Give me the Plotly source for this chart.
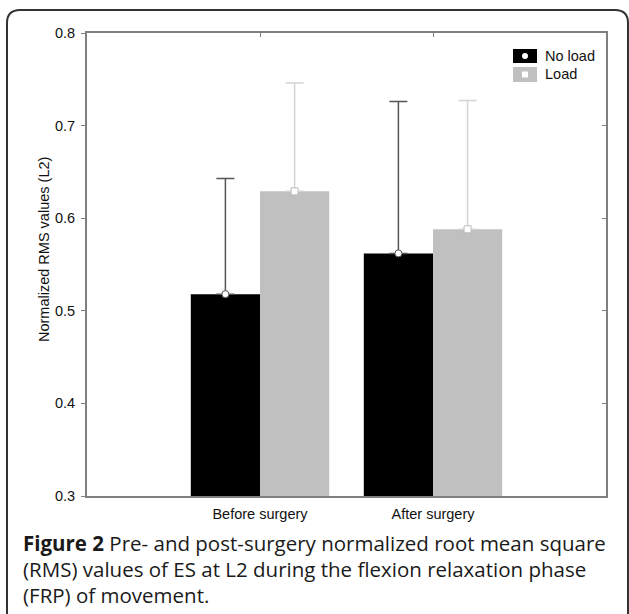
import plotly.graph_objects as go

# Data
groups = ["Before surgery", "After surgery"]
no_load_mean = [0.518, 0.562]
load_mean = [0.629, 0.588]
no_load_sd = [0.125, 0.164]
load_sd = [0.117, 0.139]
y_ticks = [0.3, 0.4, 0.5, 0.6, 0.7, 0.8]
caption_lines = [
    "<b>Figure 2</b> Pre- and post-surgery normalized root mean square",
    "(RMS) values of ES at L2 during the flexion relaxation phase",
    "(FRP) of movement.",
]

W, H = 629, 614
ML, MR, MT, MB = 87, 23, 33, 118
PW, PH = W - ML - MR, H - MT - MB


def px(x):
    return (x - ML) / PW


def py(y):
    return 1 - (y - MT) / PH


xpos = list(range(len(groups)))
bar_w = 0.4
BLACK = "#000000"
GREY = "#c0c0c0"

fig = go.Figure()
fig.add_bar(x=xpos, y=no_load_mean, width=bar_w, offset=-bar_w, base=0,
            marker=dict(color=BLACK, line=dict(width=0)), name="No load")
fig.add_bar(x=xpos, y=load_mean, width=bar_w, offset=0, base=0,
            marker=dict(color=GREY, line=dict(width=0)), name="Load")

# Means with upper error bars
fig.add_scatter(x=[i - bar_w / 2 for i in xpos], y=no_load_mean, mode="markers",
                marker=dict(symbol="circle", size=7, color="white",
                            line=dict(color="#555555", width=1)),
                error_y=dict(type="data", array=no_load_sd, arrayminus=[0] * 2,
                             symmetric=False, color="#555555", thickness=1.5, width=9))
fig.add_scatter(x=[i + bar_w / 2 for i in xpos], y=load_mean, mode="markers",
                marker=dict(symbol="square", size=7, color="white",
                            line=dict(color="#bbbbbb", width=1)),
                error_y=dict(type="data", array=load_sd, arrayminus=[0] * 2,
                             symmetric=False, color="#d4d4d4", thickness=1.5, width=9))

axis_font = dict(family="Liberation Sans, Arial, sans-serif", size=14.5, color="#111111")

fig.update_layout(
    width=W, height=H,
    margin=dict(l=ML, r=MR, t=MT, b=MB),
    paper_bgcolor="white", plot_bgcolor="white",
    showlegend=False, barmode="overlay",
    xaxis=dict(range=[-1, 2], tickmode="array", tickvals=xpos, ticktext=groups,
               showgrid=False, zeroline=False, showline=True, linecolor="#808080",
               linewidth=2, ticks="", tickfont=axis_font, ticklabelstandoff=4),
    yaxis=dict(range=[0.3, 0.8], tickmode="array", tickvals=y_ticks,
               ticktext=[f"{v:.1f}" for v in y_ticks],
               showgrid=False, zeroline=False, showline=True, linecolor="#808080",
               linewidth=2, ticks="outside", ticklen=4, tickcolor="#808080",
               tickfont=axis_font, ticklabelstandoff=3),
    xaxis2=dict(overlaying="x", side="top", range=[-1, 2], tickmode="array",
                tickvals=xpos, showticklabels=False, showgrid=False, zeroline=False,
                showline=True, linecolor="#808080", linewidth=2,
                ticks="inside", ticklen=4, tickcolor="#808080"),
    yaxis2=dict(overlaying="y", side="right", range=[0.3, 0.8], tickmode="array",
                tickvals=y_ticks[1:-1], showticklabels=False, showgrid=False,
                zeroline=False, showline=True, linecolor="#808080", linewidth=2,
                ticks="inside", ticklen=4, tickcolor="#808080"),
)
# Invisible trace so the secondary axes are drawn
fig.add_scatter(x=[None], y=[None], xaxis="x2", yaxis="y2", showlegend=False)

shapes = []
# Rounded figure frame
L, R, T, B, r = 7, 628, 10, 620, 13
path = (f"M {px(L)},{py(B)} L {px(L)},{py(T + r)} "
        f"Q {px(L)},{py(T)} {px(L + r)},{py(T)} "
        f"L {px(R - r)},{py(T)} Q {px(R)},{py(T)} {px(R)},{py(T + r)} "
        f"L {px(R)},{py(B)}")
shapes.append(dict(type="path", path=path, xref="paper", yref="paper",
                   line=dict(color="#333333", width=2), layer="above"))

# Legend swatches
shapes.append(dict(type="rect", xref="paper", yref="paper",
                   x0=px(513), x1=px(537), y0=py(63), y1=py(49),
                   fillcolor=BLACK, line=dict(width=0)))
shapes.append(dict(type="circle", xref="paper", yref="paper",
                   x0=px(522), x1=px(528), y0=py(59), y1=py(53),
                   fillcolor="white", line=dict(width=0)))
shapes.append(dict(type="rect", xref="paper", yref="paper",
                   x0=px(513), x1=px(537), y0=py(82), y1=py(67),
                   fillcolor=GREY, line=dict(width=0)))
shapes.append(dict(type="rect", xref="paper", yref="paper",
                   x0=px(522), x1=px(528), y0=py(77.5), y1=py(71.5),
                   fillcolor="white", line=dict(width=0)))
fig.update_layout(shapes=shapes)

annotations = [
    dict(text="No load", x=px(543), y=py(56), xref="paper", yref="paper",
         xanchor="left", yanchor="middle", showarrow=False, font=axis_font),
    dict(text="Load", x=px(543), y=py(74), xref="paper", yref="paper",
         xanchor="left", yanchor="middle", showarrow=False, font=axis_font),
    dict(text="Normalized RMS values (L2)", textangle=-90, x=px(44), y=py(250),
         xref="paper", yref="paper", xanchor="center", yanchor="middle",
         showarrow=False,
         font=dict(family="Liberation Sans, Arial, sans-serif", size=14.5, color="#111111")),
]
cap_font = dict(family="Open Sans, Noto Sans, sans-serif", size=20.5, color="#1a1a1a")
for i, line in enumerate(caption_lines):
    annotations.append(dict(text=line, x=px(21), y=py(543 + 26 * i), xref="paper",
                            yref="paper", xanchor="left", yanchor="middle",
                            showarrow=False, font=cap_font))
fig.update_layout(annotations=annotations)

fig.write_html("out.html")
